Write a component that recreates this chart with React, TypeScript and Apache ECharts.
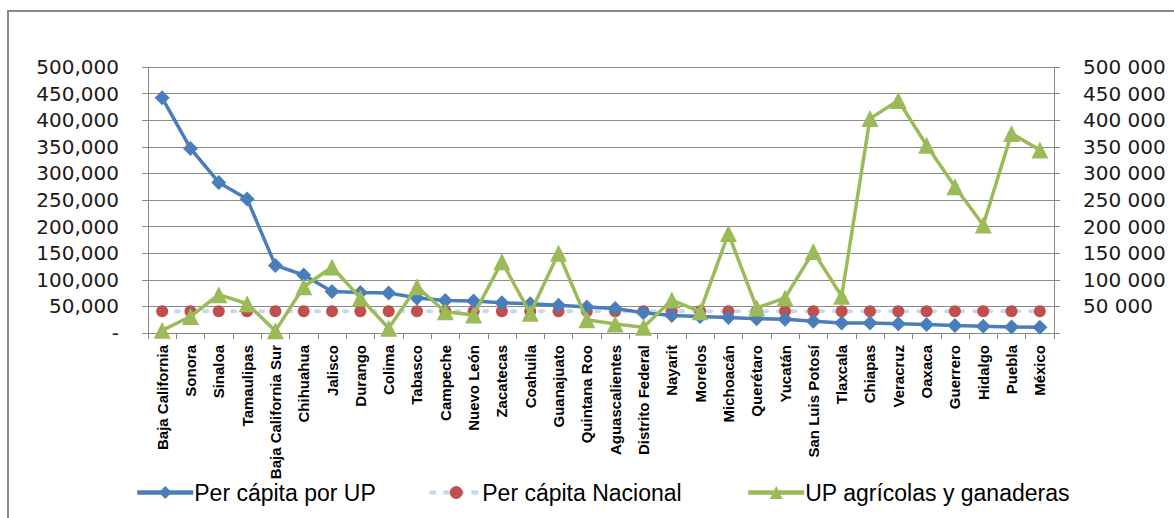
import React, { useEffect, useRef } from "react";
import * as echarts from "echarts";

const categories = [
  "Baja California", "Sonora", "Sinaloa", "Tamaulipas", "Baja California Sur",
  "Chihuahua", "Jalisco", "Durango", "Colima", "Tabasco", "Campeche",
  "Nuevo León", "Zacatecas", "Coahuila", "Guanajuato", "Quintana Roo",
  "Aguascalientes", "Distrito Federal", "Nayarit", "Morelos", "Michoacán",
  "Querétaro", "Yucatán", "San Luis Potosí", "Tlaxcala", "Chiapas", "Veracruz",
  "Oaxaca", "Guerrero", "Hidalgo", "Puebla", "México",
];

const perCapitaUP = [
  442000, 347000, 283000, 252000, 127000, 109000, 78000, 76000, 75000, 66000,
  61000, 60000, 57000, 55000, 52000, 49000, 46000, 38000, 33000, 31000, 29000,
  27000, 26000, 22000, 19000, 19000, 17500, 16000, 14000, 12500, 11500, 11000,
];

const perCapitaNacional = [
  41000, 41000, 41000, 41000, 41000, 41000, 41000, 41000, 41000, 41000, 41000,
  41000, 41000, 41000, 41000, 41000, 41000, 41000, 41000, 41000, 41000, 41000,
  41000, 41000, 41000, 41000, 41000, 41000, 41000, 41000, 41000, 41000,
];

const upAgricolas = [
  5000, 31000, 72000, 55000, 4000, 87000, 124000, 66000, 9000, 87000, 40000,
  34000, 134000, 37000, 150000, 25000, 17000, 11000, 62000, 40000, 187000,
  47000, 66000, 153000, 69000, 403000, 437000, 353000, 275000, 203000, 375000,
  344000,
];

const seriesNames = ["Per cápita por UP", "Per cápita Nacional", "UP agrícolas y ganaderas"];

const fmtComma = (v: number) =>
  v === 0 ? "-" : String(v).replace(/\B(?=(\d{3})+(?!\d))/g, ",");
const fmtSpace = (v: number) =>
  v === 0 ? "" : String(v).replace(/\B(?=(\d{3})+(?!\d))/g, " ");

export default function App() {
  const ref = useRef<HTMLDivElement>(null);
  useEffect(() => {
    if (!ref.current) return;
    const chart = echarts.init(ref.current, undefined, { renderer: "svg" });
    const axisFont = "'DejaVu Sans', sans-serif";
    const textFont = "'Liberation Sans', Arial, sans-serif";
    const legendBase = {
      top: 476,
      itemHeight: 16,
      itemGap: 0,
      textStyle: { fontFamily: textFont, fontSize: 23, color: "#000", padding: [0, 0, 0, -4] },
      lineStyle: { width: 4.5 },
    };
    chart.setOption({
      animation: false,
      backgroundColor: "#ffffff",
      graphic: [
        {
          type: "rect",
          shape: { x: 8, y: 11, width: 1200, height: 600 },
          style: { fill: "none", stroke: "#8a8a8a", lineWidth: 2 },
          silent: true,
        },
      ],
      grid: { left: 148, right: 120, top: 67, bottom: 185, containLabel: false },
      legend: [
        { ...legendBase, left: 130, itemWidth: 56, data: [seriesNames[0]] },
        { ...legendBase, left: 424, itemWidth: 50, data: [seriesNames[1]] },
        { ...legendBase, left: 741, itemWidth: 56, data: [seriesNames[2]] },
      ],
      xAxis: {
        type: "category",
        data: categories,
        boundaryGap: true,
        axisLine: { lineStyle: { color: "#888888", width: 1 } },
        axisTick: { show: true, length: 6, lineStyle: { color: "#888888" } },
        axisLabel: {
          rotate: 90,
          interval: 0,
          margin: 12,
          fontFamily: textFont,
          fontSize: 15,
          fontWeight: "bold",
          color: "#000",
        },
      },
      yAxis: [
        {
          type: "value",
          min: 0,
          max: 500000,
          interval: 50000,
          axisLine: { show: true, lineStyle: { color: "#888888" } },
          axisTick: { show: true, length: 6, lineStyle: { color: "#888888" } },
          splitLine: { lineStyle: { color: "#8c8c8c", width: 1 } },
          axisLabel: {
            formatter: fmtComma,
            fontFamily: axisFont,
            fontSize: 20,
            color: "#1a1a1a",
            margin: 29,
          },
        },
        {
          type: "value",
          min: 0,
          max: 500000,
          interval: 50000,
          position: "right",
          axisLine: { show: true, lineStyle: { color: "#888888" } },
          axisTick: { show: true, length: 6, lineStyle: { color: "#888888" } },
          splitLine: { show: false },
          axisLabel: {
            formatter: fmtSpace,
            fontFamily: axisFont,
            fontSize: 20,
            color: "#1a1a1a",
            margin: 29,
          },
        },
      ],
      series: [
        {
          name: seriesNames[0],
          type: "line",
          data: perCapitaUP,
          symbol: "diamond",
          symbolSize: 15,
          lineStyle: { color: "#4a7ebb", width: 3.5 },
          itemStyle: { color: "#4a7ebb" },
          z: 3,
        },
        {
          name: seriesNames[1],
          type: "line",
          data: perCapitaNacional,
          symbol: "circle",
          symbolSize: 12,
          lineStyle: { color: "#c6d9f1", width: 4, type: [3, 11], cap: "round" },
          itemStyle: { color: "#c0504d" },
          z: 2,
        },
        {
          name: seriesNames[2],
          type: "line",
          yAxisIndex: 1,
          data: upAgricolas,
          symbol: "triangle",
          symbolSize: 17,
          lineStyle: { color: "#9bbb59", width: 3.5 },
          itemStyle: { color: "#9bbb59" },
          z: 4,
        },
      ],
    });
    return () => chart.dispose();
  }, []);
  return (
    <div
      ref={ref}
      style={{ position: "fixed", left: 0, top: 0, width: 1174, height: 518 }}
    />
  );
}
